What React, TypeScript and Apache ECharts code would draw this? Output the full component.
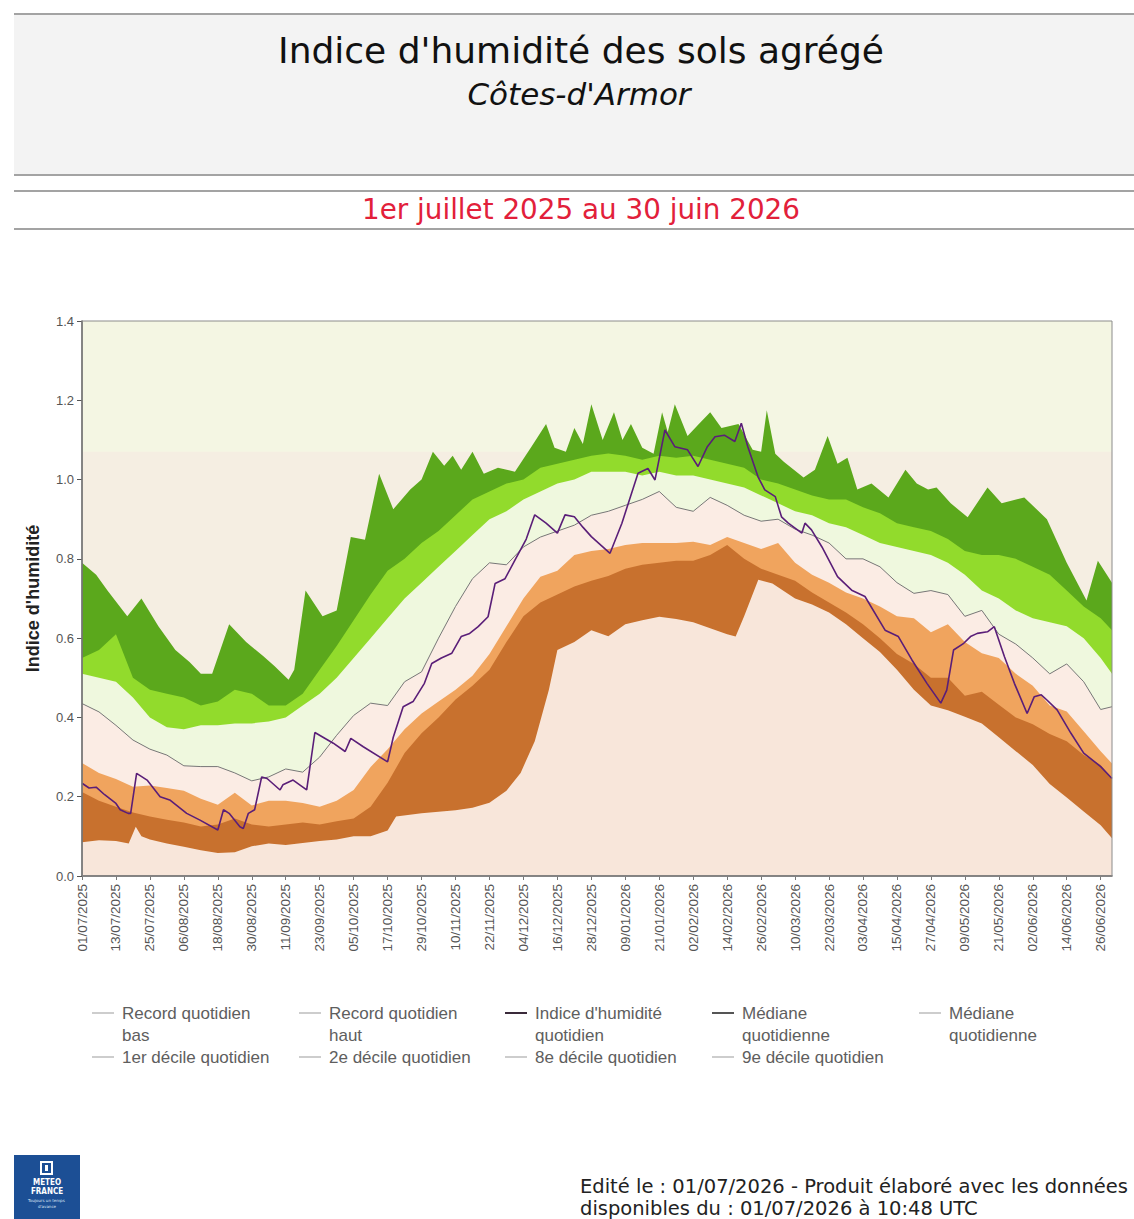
import React, { useEffect, useRef } from "react";
import * as echarts from "echarts";

// ---------- data (day index from 01/07/2025) ----------
const decileDays = [0, 6, 12, 18, 24, 30, 36, 42, 48, 54, 60, 66, 72, 78, 84, 90, 96, 102, 108, 114, 120, 126, 132, 138, 144, 150, 156, 162, 168, 174, 180, 186, 192, 198, 204, 210, 216, 222, 228, 234, 240, 246, 252, 258, 264, 270, 276, 282, 288, 294, 300, 306, 312, 318, 324, 330, 336, 342, 348, 354, 360, 364];

const decile9 = [0.55, 0.57, 0.61, 0.5, 0.47, 0.46, 0.45, 0.43, 0.44, 0.47,
  0.46, 0.43, 0.43, 0.46, 0.52, 0.58, 0.645, 0.71, 0.77, 0.8,
  0.84, 0.87, 0.91, 0.95, 0.97, 0.99, 1.0, 1.03, 1.04, 1.05,
  1.06, 1.066, 1.06, 1.05, 1.06, 1.055, 1.06, 1.05, 1.04, 1.03,
  1.0, 0.99, 0.975, 0.96, 0.95, 0.95, 0.93, 0.915, 0.89, 0.88,
  0.87, 0.85, 0.82, 0.81, 0.81, 0.8, 0.78, 0.76, 0.72, 0.68,
  0.65, 0.62];

const decile8 = [0.51, 0.5, 0.49, 0.45, 0.4, 0.375, 0.37, 0.38, 0.38, 0.385,
  0.385, 0.39, 0.4, 0.43, 0.46, 0.5, 0.55, 0.6, 0.65, 0.7,
  0.74, 0.78, 0.82, 0.86, 0.9, 0.92, 0.95, 0.97, 0.99, 1.0,
  1.02, 1.02, 1.02, 1.01, 1.02, 1.01, 1.01, 1.0, 0.99, 0.98,
  0.96, 0.94, 0.92, 0.91, 0.89, 0.88, 0.86, 0.84, 0.83, 0.82,
  0.81, 0.79, 0.76, 0.72, 0.7, 0.67, 0.65, 0.64, 0.63, 0.6,
  0.55, 0.51];

const median = [0.435, 0.414, 0.38, 0.343, 0.32, 0.305, 0.278, 0.276, 0.276, 0.26,
  0.24, 0.25, 0.27, 0.262, 0.3, 0.355, 0.405, 0.436, 0.43, 0.49,
  0.515, 0.6, 0.68, 0.75, 0.79, 0.785, 0.83, 0.855, 0.87, 0.885,
  0.91, 0.92, 0.935, 0.95, 0.97, 0.93, 0.92, 0.955, 0.935, 0.91,
  0.895, 0.9, 0.875, 0.86, 0.84, 0.8, 0.8, 0.78, 0.74, 0.713,
  0.72, 0.71, 0.655, 0.67, 0.61, 0.585, 0.55, 0.51, 0.535, 0.49,
  0.42, 0.427];

const decile2 = [0.285, 0.26, 0.245, 0.225, 0.228, 0.222, 0.215, 0.195, 0.18, 0.21,
  0.178, 0.19, 0.19, 0.184, 0.175, 0.19, 0.217, 0.275, 0.32, 0.37,
  0.41, 0.44, 0.47, 0.505, 0.56, 0.63, 0.7, 0.755, 0.77, 0.81,
  0.82, 0.825, 0.835, 0.84, 0.84, 0.84, 0.843, 0.835, 0.855, 0.84,
  0.825, 0.84, 0.79, 0.76, 0.74, 0.715, 0.7, 0.68, 0.655, 0.65,
  0.615, 0.635, 0.59, 0.562, 0.55, 0.51, 0.48, 0.43, 0.415, 0.365,
  0.315, 0.284];

const decile1 = [0.212, 0.19, 0.175, 0.16, 0.15, 0.142, 0.135, 0.125, 0.13, 0.145,
  0.13, 0.125, 0.13, 0.135, 0.13, 0.138, 0.145, 0.175, 0.235, 0.31,
  0.36, 0.4, 0.445, 0.48, 0.52, 0.59, 0.655, 0.69, 0.71, 0.73,
  0.745, 0.757, 0.775, 0.785, 0.79, 0.795, 0.795, 0.81, 0.835, 0.8,
  0.775, 0.76, 0.745, 0.715, 0.69, 0.665, 0.635, 0.6, 0.56, 0.535,
  0.5, 0.5, 0.455, 0.465, 0.432, 0.4, 0.383, 0.358, 0.34, 0.305,
  0.28, 0.245];

const recordLowDays = [0, 6, 12, 16.5, 19, 21, 24, 30, 36, 42, 48, 54, 60, 66, 72, 78, 84, 90, 96, 102, 108, 111, 120, 126, 132, 138, 144, 150, 155, 160, 165, 168, 174, 180, 186, 192, 198, 204, 210, 216, 222, 228, 231, 234, 239, 244, 252, 258, 264, 270, 276, 282, 288, 294, 300, 306, 312, 318, 324, 330, 336, 342, 348, 354, 360, 364];
const recordLowValues = [0.085, 0.09, 0.088, 0.082, 0.124, 0.1, 0.092, 0.082, 0.074, 0.065, 0.058, 0.06, 0.075, 0.082, 0.078, 0.083, 0.088, 0.092, 0.1, 0.1, 0.115, 0.15, 0.158, 0.162, 0.166, 0.172, 0.185, 0.215, 0.26, 0.34, 0.47, 0.57, 0.59, 0.62, 0.605, 0.635, 0.645, 0.654, 0.648, 0.64, 0.625, 0.61, 0.604, 0.655, 0.747, 0.738, 0.7, 0.685, 0.665, 0.635, 0.6, 0.565, 0.52, 0.47, 0.43, 0.418, 0.402, 0.385, 0.35, 0.315, 0.28, 0.232, 0.198, 0.163, 0.128, 0.095];

const recordHighDays = [0, 5, 9, 16, 21, 27, 33, 38, 42, 46, 52, 58, 64, 68, 73, 75, 79, 85, 90, 95, 100, 105, 110, 116, 120, 124, 128, 131, 134, 138, 142, 147, 153, 159, 164, 167, 171, 174, 177, 180, 184, 188, 191, 194, 198, 202, 205, 207, 209.5, 214, 218, 222, 226, 232, 237, 240, 242, 245, 248, 255, 259, 263.5, 267, 270.5, 274, 279, 285, 291, 295, 299, 302, 307, 313, 320, 325, 333, 341, 348, 355, 359, 364];
const recordHighValues = [0.79, 0.76, 0.72, 0.655, 0.7, 0.63, 0.57, 0.54, 0.51, 0.51, 0.635, 0.59, 0.555, 0.53, 0.495, 0.52, 0.72, 0.655, 0.67, 0.855, 0.848, 1.015, 0.925, 0.975, 1.0, 1.07, 1.035, 1.06, 1.025, 1.07, 1.015, 1.03, 1.02, 1.085, 1.14, 1.08, 1.07, 1.13, 1.09, 1.19, 1.1, 1.17, 1.1, 1.14, 1.08, 1.065, 1.17, 1.12, 1.19, 1.11, 1.14, 1.17, 1.13, 1.14, 1.075, 1.07, 1.175, 1.065, 1.045, 1.005, 1.025, 1.11, 1.04, 1.055, 0.975, 0.99, 0.955, 1.025, 0.99, 0.975, 0.98, 0.94, 0.905, 0.98, 0.94, 0.955, 0.9, 0.79, 0.695, 0.795, 0.74];

const indexDays = [0, 2.5, 5, 8, 12, 13.5, 16.3, 17.2, 19.3, 23, 27.6, 31, 37, 41.7, 48, 50, 52, 55.8, 57, 58.8, 61, 63.5, 65.4, 70, 71, 74.6, 79.4, 82.3, 88.8, 93, 95, 99.4, 108, 110, 113.5, 117, 121, 123.6, 127, 130.7, 134, 137, 140, 143.5, 146, 149.5, 153, 157, 160, 164, 168, 170.7, 174, 177, 180, 186.6, 190.8, 196.5, 200, 202.5, 206, 209.5, 214, 217.7, 221, 223.7, 227, 230.7, 233, 235.3, 238.9, 241.3, 245, 247.2, 249.6, 254.4, 255.5, 257.8, 261.5, 267, 272, 276.7, 283.8, 288.5, 293.3, 298.6, 303.5, 305.6, 308, 311.6, 314, 316.4, 320, 322.4, 326, 329.5, 334, 336.5, 339, 341, 344.6, 349.5, 354, 360, 364];
const indexValues = [0.234, 0.222, 0.224, 0.205, 0.183, 0.167, 0.158, 0.158, 0.259, 0.242, 0.2, 0.192, 0.158, 0.141, 0.116, 0.167, 0.158, 0.124, 0.12, 0.158, 0.167, 0.25, 0.246, 0.217, 0.23, 0.242, 0.217, 0.362, 0.335, 0.314, 0.347, 0.326, 0.288, 0.35, 0.427, 0.44, 0.486, 0.536, 0.55, 0.562, 0.604, 0.612, 0.629, 0.654, 0.738, 0.75, 0.797, 0.85, 0.911, 0.89, 0.865, 0.911, 0.906, 0.88, 0.856, 0.814, 0.89, 1.016, 1.028, 0.999, 1.125, 1.083, 1.075, 1.033, 1.083, 1.108, 1.112, 1.096, 1.142, 1.083, 1.007, 0.974, 0.957, 0.906, 0.89, 0.865, 0.89, 0.873, 0.83, 0.755, 0.721, 0.705, 0.62, 0.604, 0.545, 0.486, 0.436, 0.469, 0.57, 0.587, 0.604, 0.612, 0.616, 0.629, 0.553, 0.486, 0.41, 0.452, 0.457, 0.444, 0.419, 0.36, 0.31, 0.276, 0.246];

const beigeTop = 1.07;

const legendRowA = ["Record quotidien\nbas", "Record quotidien\nhaut", "Indice d'humidité\nquotidien", "Médiane\nquotidienne", "Médiane\nquotidienne"];
const legendRowB = ["1er décile quotidien", "2e décile quotidien", "8e décile quotidien", "9e décile quotidien"];

// ---------- helpers ----------
const zip = (days: number[], vals: number[]) => days.map((d, i) => [d, vals[i]]);

const pad = (n: number) => (n < 10 ? "0" + n : "" + n);
const dayLabel = (d: number) => {
  const dt = new Date(Date.UTC(2025, 6, 1) + Math.round(d) * 86400000);
  return pad(dt.getUTCDate()) + "/" + pad(dt.getUTCMonth() + 1) + "/" + dt.getUTCFullYear();
};

const areaSeries = (name: string, days: number[], vals: number[], color: string, z: number) => ({
  type: "line",
  name,
  data: zip(days, vals),
  symbol: "none",
  showSymbol: false,
  silent: true,
  lineStyle: { width: 0, opacity: 0 },
  areaStyle: { color, opacity: 1 },
  z,
});

const C = {
  top: "#f4f6e3",
  beige: "#f5eee2",
  darkGreen: "#5ba81c",
  lightGreen: "#92db2c",
  paleGreen: "#eff8de",
  pink: "#fbece4",
  orange: "#f0a45e",
  brown: "#c8712e",
  peach: "#f8e6da",
};

const GRID = { left: 82, top: 321, width: 1030, height: 555 };

export default function App() {
  const ref = useRef<HTMLDivElement>(null);

  useEffect(() => {
    if (!ref.current) return;
    const chart = echarts.init(ref.current, null, { renderer: "svg" });

    const legendFont = '17px "Liberation Sans", Arial, sans-serif';
    const colX = [92, 299, 505, 712, 919];
    const rowASwatch = ["#bdbdbd", "#bdbdbd", "#3a2a3a", "#555555", "#bdbdbd"];
    const legendGraphics: any[] = [];
    legendRowA.forEach((t, i) => {
      legendGraphics.push({
        type: "line",
        shape: { x1: colX[i], y1: 1013, x2: colX[i] + 22, y2: 1013 },
        style: { stroke: rowASwatch[i], lineWidth: i === 2 || i === 3 ? 2 : 1.5 },
      });
      legendGraphics.push({
        type: "text",
        x: colX[i] + 30,
        y: 1002,
        style: { text: t, font: legendFont, fill: "#5e5e5e", lineHeight: 22, textVerticalAlign: "top" },
      });
    });
    legendRowB.forEach((t, i) => {
      legendGraphics.push({
        type: "line",
        shape: { x1: colX[i], y1: 1057, x2: colX[i] + 22, y2: 1057 },
        style: { stroke: "#bdbdbd", lineWidth: 1.5 },
      });
      legendGraphics.push({
        type: "text",
        x: colX[i] + 30,
        y: 1057,
        style: { text: t, font: legendFont, fill: "#5e5e5e", textVerticalAlign: "middle" },
      });
    });

    const dejavu = '"DejaVu Sans", Verdana, sans-serif';

    const option: any = {
      animation: false,
      backgroundColor: "#ffffff",
      grid: {
        ...GRID,
        show: true,
        backgroundColor: C.top,
        borderWidth: 0,
        containLabel: false,
      },
      xAxis: {
        type: "value",
        min: 0,
        max: 364,
        interval: 12,
        z: 20,
        axisLine: { show: true, lineStyle: { color: "#555", width: 1.5 } },
        axisTick: { show: true, length: 4, lineStyle: { color: "#777" } },
        splitLine: { show: false },
        axisLabel: {
          rotate: 90,
          margin: 8,
          showMaxLabel: false,
          fontSize: 13.5,
          color: "#555",
          fontFamily: '"Liberation Sans", Arial, sans-serif',
          formatter: (v: number) => dayLabel(v),
        },
      },
      yAxis: {
        type: "value",
        min: 0,
        max: 1.4,
        interval: 0.2,
        z: 20,
        name: "Indice d'humidité",
        nameLocation: "middle",
        nameRotate: 90,
        nameGap: 40,
        nameTextStyle: { fontSize: 18, fontWeight: "bold", color: "#222", fontFamily: '"Liberation Sans", Arial, sans-serif' },
        axisLine: { show: true, lineStyle: { color: "#555", width: 1.5 } },
        axisTick: { show: true, length: 5, lineStyle: { color: "#555" } },
        splitLine: { show: false },
        axisLabel: {
          margin: 8,
          fontSize: 13,
          color: "#555",
          fontFamily: '"Liberation Sans", Arial, sans-serif',
          formatter: (v: number) => v.toFixed(1),
        },
      },
      series: [
        areaSeries("fond", [0, 364], [beigeTop, beigeTop], C.beige, 1),
        areaSeries("Record quotidien haut", recordHighDays, recordHighValues, C.darkGreen, 2),
        areaSeries("9e décile quotidien", decileDays, decile9, C.lightGreen, 3),
        areaSeries("8e décile quotidien", decileDays, decile8, C.paleGreen, 4),
        {
          ...areaSeries("Médiane quotidienne", decileDays, median, C.pink, 5),
          lineStyle: { width: 1, color: "#777777", opacity: 1 },
        },
        areaSeries("2e décile quotidien", decileDays, decile2, C.orange, 6),
        areaSeries("1er décile quotidien", decileDays, decile1, C.brown, 7),
        areaSeries("Record quotidien bas", recordLowDays, recordLowValues, C.peach, 8),
        {
          type: "line",
          name: "Indice d'humidité quotidien",
          data: zip(indexDays, indexValues),
          symbol: "none",
          showSymbol: false,
          silent: true,
          lineStyle: { width: 1.6, color: "#5a1e78" },
          z: 10,
        },
      ],
      graphic: [
        // header
        { type: "rect", shape: { x: 14, y: 13, width: 1120, height: 2 }, style: { fill: "#a3a3a3" } },
        { type: "rect", shape: { x: 14, y: 15, width: 1120, height: 159 }, style: { fill: "#f3f3f3" } },
        { type: "rect", shape: { x: 14, y: 174, width: 1120, height: 2 }, style: { fill: "#a3a3a3" } },
        { type: "rect", shape: { x: 14, y: 190, width: 1120, height: 2 }, style: { fill: "#a3a3a3" } },
        { type: "rect", shape: { x: 14, y: 228, width: 1120, height: 2 }, style: { fill: "#a3a3a3" } },
        {
          type: "text", x: 581, y: 50,
          style: { text: "Indice d'humidité des sols agrégé", font: `36px ${dejavu}`, fill: "#111", textAlign: "center", textVerticalAlign: "middle" },
        },
        {
          type: "text", x: 579, y: 94,
          style: { text: "Côtes-d'Armor", font: `italic 31px ${dejavu}`, fill: "#111", textAlign: "center", textVerticalAlign: "middle" },
        },
        {
          type: "text", x: 581, y: 209,
          style: { text: "1er juillet 2025 au 30 juin 2026", font: `27.8px ${dejavu}`, fill: "#e2203a", textAlign: "center", textVerticalAlign: "middle" },
        },
        // plot frame (top / right)
        {
          type: "rect", z: 50, silent: true,
          shape: { x: GRID.left, y: GRID.top, width: GRID.width, height: GRID.height },
          style: { fill: "none", stroke: "#8c8c8c", lineWidth: 1 },
        },
        ...legendGraphics,
        // footer logo
        { type: "rect", shape: { x: 14, y: 1155, width: 66, height: 64 }, style: { fill: "#1c4f95" } },
        { type: "rect", shape: { x: 41, y: 1162, width: 11, height: 12 }, style: { fill: "none", stroke: "#ffffff", lineWidth: 2 } },
        { type: "rect", shape: { x: 45, y: 1165, width: 3, height: 6 }, style: { fill: "#ffffff" } },
        {
          type: "text", x: 47, y: 1182,
          style: { text: "METEO", font: 'bold 8px "DejaVu Sans Condensed", "DejaVu Sans", sans-serif', fill: "#ffffff", textAlign: "center", textVerticalAlign: "middle" },
        },
        {
          type: "text", x: 47, y: 1191,
          style: { text: "FRANCE", font: 'bold 8px "DejaVu Sans Condensed", "DejaVu Sans", sans-serif', fill: "#ffffff", textAlign: "center", textVerticalAlign: "middle" },
        },
        {
          type: "text", x: 47, y: 1203,
          style: { text: "Toujours un temps d'avance", font: '4px "DejaVu Sans", sans-serif', fill: "#dfe8f5", textAlign: "center", textVerticalAlign: "middle", width: 40, overflow: "break", lineHeight: 6 },
        },
        // footer text
        {
          type: "text", x: 580, y: 1186,
          style: { text: "Edité le : 01/07/2026 - Produit élaboré avec les données", font: `19.5px ${dejavu}`, fill: "#222", textVerticalAlign: "middle" },
        },
        {
          type: "text", x: 580, y: 1208,
          style: { text: "disponibles du : 01/07/2026 à 10:48 UTC", font: `19.5px ${dejavu}`, fill: "#222", textVerticalAlign: "middle" },
        },
      ],
    };

    chart.setOption(option);
    return () => chart.dispose();
  }, []);

  return (
    <div
      ref={ref}
      style={{ position: "absolute", left: 0, top: 0, width: 1134, height: 1219, background: "#fff" }}
    />
  );
}
